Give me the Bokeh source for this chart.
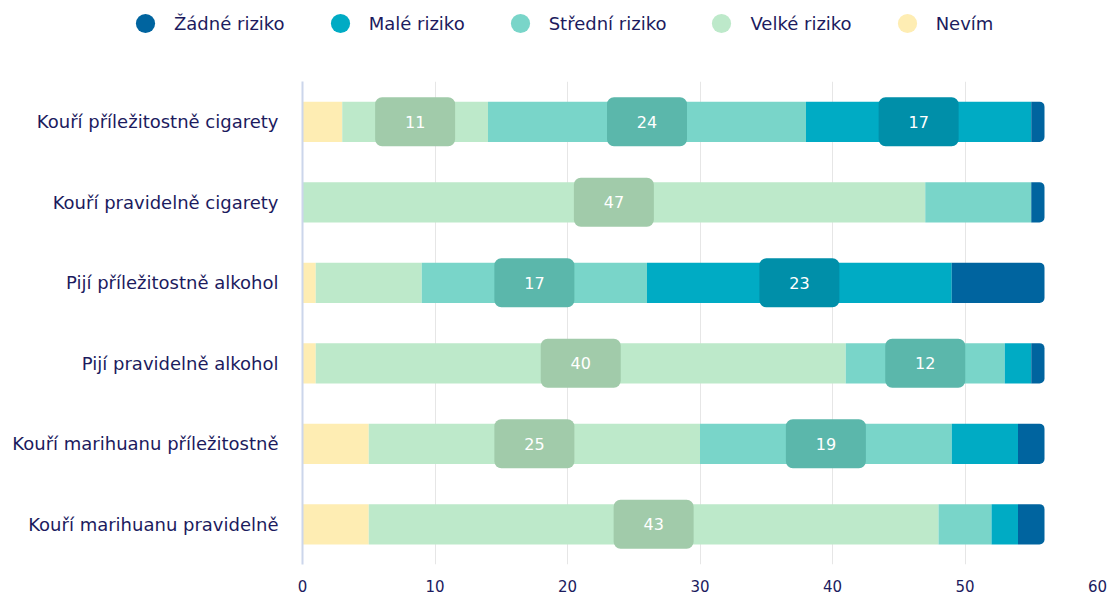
from bokeh.plotting import figure
from bokeh.models import ColumnDataSource, FactorRange, Legend, LegendItem, Range1d, FixedTicker
from bokeh.core.properties import value
from bokeh.embed import file_html
from bokeh.resources import INLINE

categories = ["Kouří příležitostně cigarety", "Kouří pravidelně cigarety",
              "Pijí příležitostně alkohol", "Pijí pravidelně alkohol",
              "Kouří marihuanu příležitostně", "Kouří marihuanu pravidelně"]
nevim = [3, 0, 1, 1, 5, 5]
velke = [11, 47, 8, 40, 25, 43]
stredni = [24, 8, 17, 12, 19, 4]
male = [17, 0, 23, 2, 5, 2]
zadne = [1, 1, 7, 1, 2, 2]

series_names = ["Nevím", "Velké riziko", "Střední riziko", "Malé riziko", "Žádné riziko"]
series_values = [nevim, velke, stredni, male, zadne]
series_colors = ["#feedb3", "#bde9ca", "#79d5c9", "#00abc4", "#00649f"]
label_colors = ["#e8d89a", "#a1cbaa", "#5bb7ab", "#008fa9", "#004f80"]
legend_order = ["Žádné riziko", "Malé riziko", "Střední riziko", "Velké riziko", "Nevím"]
x_ticks = [0, 10, 20, 30, 40, 50, 60]

FONT = "DejaVu Sans"
NAVY = "#1c1b5e"

# ---- legend strip (separate root so its frame spans the full width) ----
lg = figure(width=1107, height=60, x_axis_type=None, y_axis_type=None,
            min_border=0, output_backend="svg", toolbar_location=None,
            x_range=Range1d(0, 1), y_range=Range1d(0, 1))
lg.outline_line_color = None
lg.xgrid.grid_line_color = None
lg.ygrid.grid_line_color = None
leg_r = {}
for name, col in zip(series_names, series_colors):
    leg_r[name] = lg.scatter(x=[-10], y=[-10], size=19, marker="circle",
                             fill_color=col, line_color=None)
legend = Legend(items=[LegendItem(label=n, renderers=[leg_r[n]]) for n in legend_order],
                orientation="horizontal", location=(121, 13),
                glyph_width=48, glyph_height=48, label_standoff=5, spacing=31,
                padding=0, margin=0, border_line_color=None, background_fill_alpha=0,
                label_text_font=FONT, label_text_font_size="18px", label_text_color=NAVY,
                label_height=48)
lg.add_layout(legend, "center")

# ---- main chart ----
p = figure(y_range=FactorRange(factors=list(reversed(categories))),
           x_range=Range1d(0, 60),
           frame_width=795, frame_height=483,
           min_border_left=302, min_border_right=10,
           min_border_top=21, min_border_bottom=33,
           output_backend="svg", toolbar_location=None)
p.outline_line_color = None
p.background_fill_color = "white"

lefts = [0] * len(categories)
lab_x, lab_y, lab_t, lab_c = [], [], [], []
for name, vals, col, lcol in zip(series_names, series_values, series_colors, label_colors):
    rights = [l + v for l, v in zip(lefts, vals)]
    src = ColumnDataSource(dict(y=categories, left=lefts, right=rights))
    kw = {}
    if name == "Žádné riziko":
        kw["border_radius"] = (0, 5, 5, 0)
    p.hbar(y="y", left="left", right="right", height=0.5, source=src,
           fill_color=col, line_color=None, **kw)
    for c, l, v in zip(categories, lefts, vals):
        if v >= 10:
            lab_x.append(l + v / 2)
            lab_y.append(c)
            lab_t.append(str(v))
            lab_c.append(lcol)
    lefts = rights

lsrc = ColumnDataSource(dict(x=lab_x, y=lab_y, t=lab_t, c=lab_c))
p.rect(x="x", y="y", width=80, height=49, width_units="screen", height_units="screen",
       fill_color="c", line_color=None, border_radius=7, source=lsrc)
p.text(x="x", y="y", text="t", source=lsrc, text_align="center", text_baseline="middle",
       text_color="white", text_font=value(FONT), text_font_size="16px")

p.xaxis.ticker = FixedTicker(ticks=x_ticks)
p.xaxis.axis_line_color = None
p.xaxis.major_tick_line_color = None
p.xaxis.minor_tick_line_color = None
p.xaxis.major_label_standoff = 9
p.xaxis.major_label_text_font = FONT
p.xaxis.major_label_text_font_size = "15px"
p.xaxis.major_label_text_color = NAVY

p.yaxis.axis_line_color = "#ccd6eb"
p.yaxis.axis_line_width = 2
p.yaxis.major_tick_line_color = None
p.yaxis.minor_tick_line_color = None
p.yaxis.major_label_standoff = 18
p.yaxis.major_label_text_font = FONT
p.yaxis.major_label_text_font_size = "18px"
p.yaxis.major_label_text_color = NAVY

p.xgrid.grid_line_color = "#e6e6e6"
p.xgrid.grid_line_width = 1
p.ygrid.grid_line_color = None

open("out.html", "w").write(file_html([lg, p], INLINE))
